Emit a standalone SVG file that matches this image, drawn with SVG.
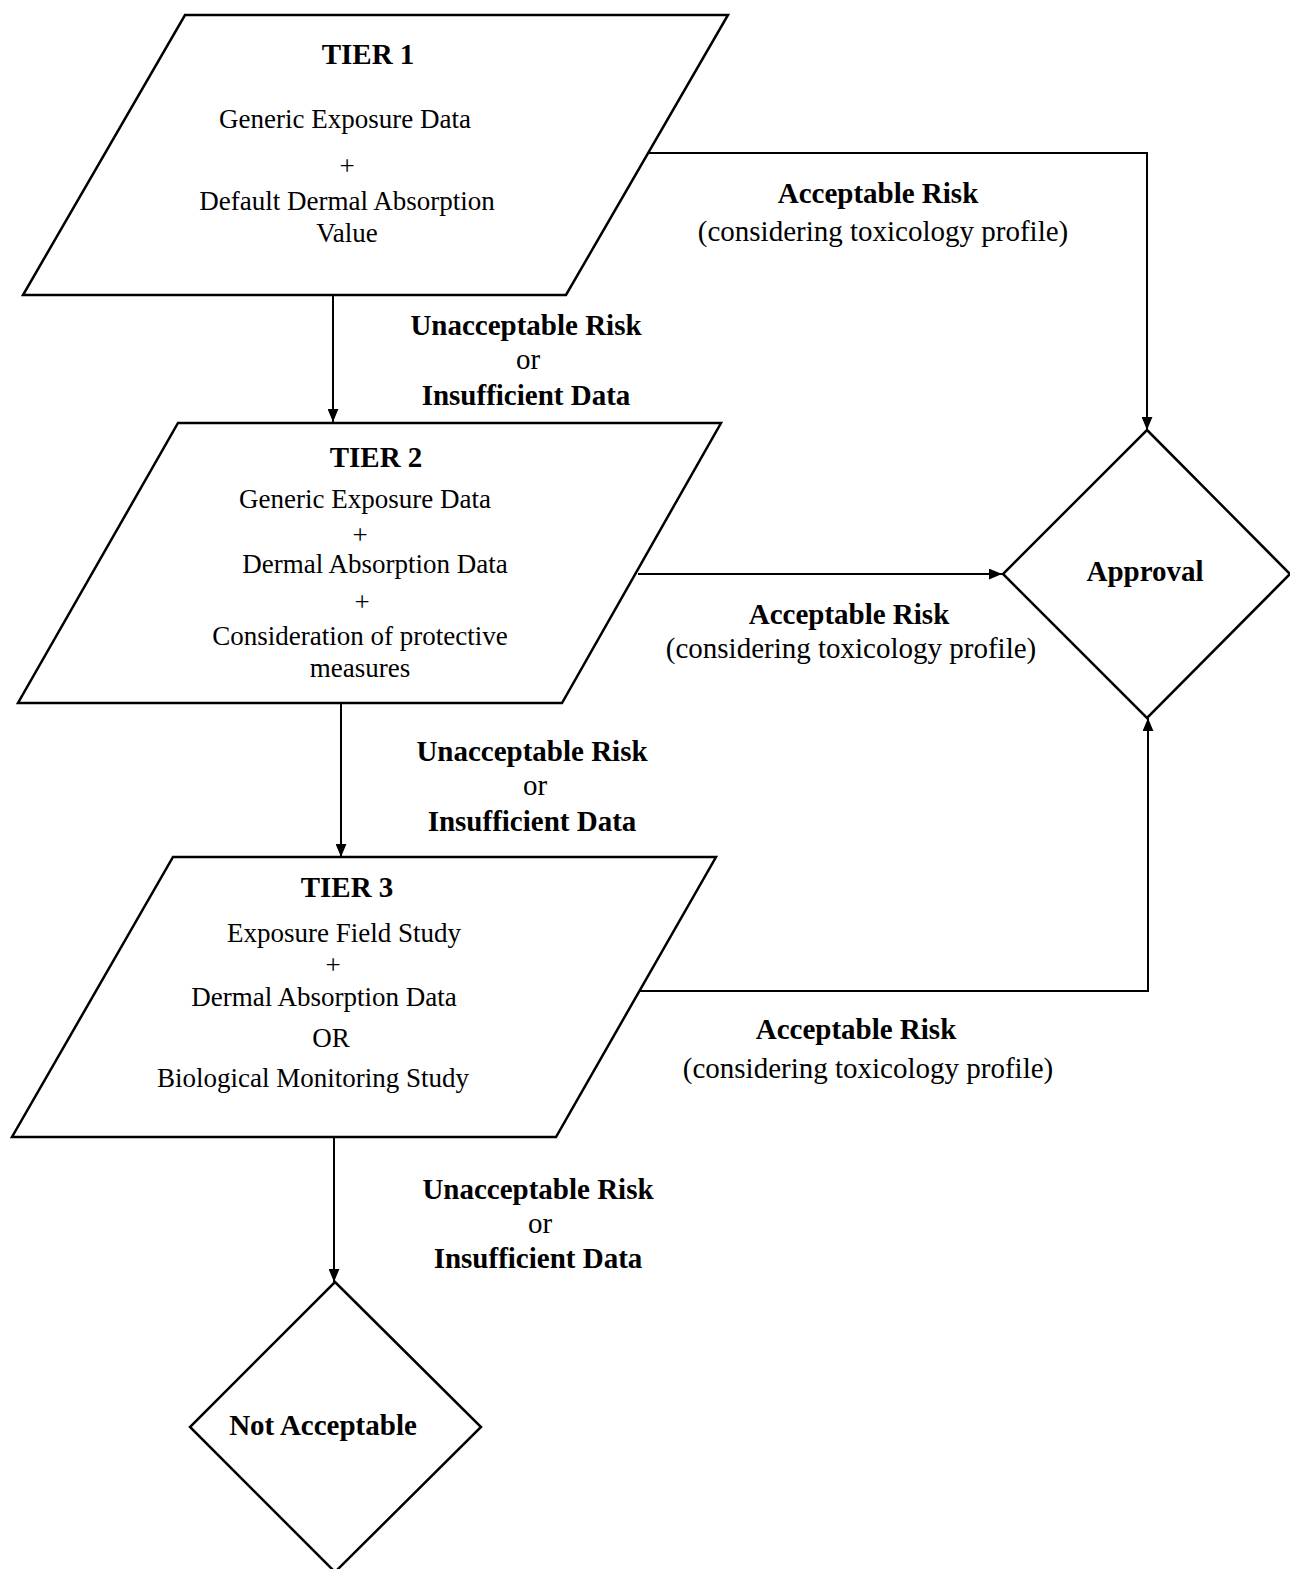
<svg xmlns="http://www.w3.org/2000/svg" width="1290" height="1569" viewBox="0 0 1290 1569">
<defs>
<style>
.shape{fill:#fff;stroke:#000;stroke-width:2.5;stroke-linejoin:miter}
.conn{fill:none;stroke:#000;stroke-width:2}
text{font-family:"Liberation Serif","Times New Roman",serif;fill:#000;text-anchor:middle}
.n{font-size:27px}
.l{font-size:29px}
.b{font-weight:bold;font-size:29px}
</style>
<marker id="arr" viewBox="0 0 12 10" refX="12" refY="5" markerWidth="13" markerHeight="11" markerUnits="userSpaceOnUse" orient="auto">
<path d="M0,0 L12,5 L0,10 Z" fill="#000"/>
</marker>
</defs>
<rect width="1290" height="1569" fill="#fff"/>
<g id="connectors">
<path class="conn" d="M648,153 H1147 V430" marker-end="url(#arr)"/>
<path class="conn" d="M333,295 V422" marker-end="url(#arr)"/>
<path class="conn" d="M638,574 H1002" marker-end="url(#arr)"/>
<path class="conn" d="M341,703 V857" marker-end="url(#arr)"/>
<path class="conn" d="M640,991 H1148 V718" marker-end="url(#arr)"/>
<path class="conn" d="M334,1137 V1282" marker-end="url(#arr)"/>
</g>
<g id="tier1">
<polygon class="shape" points="185,15 728,15 566,295 23,295"/>
<text class="b" x="368" y="64">TIER 1</text>
<text class="n" x="345" y="128">Generic Exposure Data</text>
<text class="n" x="347" y="175">+</text>
<text class="n" x="347" y="210">Default Dermal Absorption</text>
<text class="n" x="347" y="242">Value</text>
</g>
<g id="tier2">
<polygon class="shape" points="178,423 721,423 562,703 18,703"/>
<text class="b" x="376" y="467">TIER 2</text>
<text class="n" x="365" y="508">Generic Exposure Data</text>
<text class="n" x="360" y="544">+</text>
<text class="n" x="375" y="573">Dermal Absorption Data</text>
<text class="n" x="362" y="611">+</text>
<text class="n" x="360" y="645">Consideration of protective</text>
<text class="n" x="360" y="677">measures</text>
</g>
<g id="tier3">
<polygon class="shape" points="173,857 716,857 556,1137 12,1137"/>
<text class="b" x="347" y="897">TIER 3</text>
<text class="n" x="344" y="942">Exposure Field Study</text>
<text class="n" x="333" y="974">+</text>
<text class="n" x="324" y="1006">Dermal Absorption Data</text>
<text class="n" x="331" y="1047">OR</text>
<text class="n" x="313" y="1087">Biological Monitoring Study</text>
</g>
<g id="approval">
<polygon class="shape" points="1147,430 1290,574 1147,718 1003,574"/>
<text class="b" x="1145" y="581">Approval</text>
</g>
<g id="not-acceptable">
<polygon class="shape" points="335,1282 481,1427 335,1572 190,1427"/>
<text class="b" x="323" y="1435">Not Acceptable</text>
</g>
<g id="labels">
<text class="b" x="878" y="203">Acceptable Risk</text>
<text class="l" x="883" y="241">(considering toxicology profile)</text>
<text class="b" x="849" y="624">Acceptable Risk</text>
<text class="l" x="851" y="658">(considering toxicology profile)</text>
<text class="b" x="856" y="1039">Acceptable Risk</text>
<text class="l" x="868" y="1078">(considering toxicology profile)</text>
<text class="b" x="526" y="335">Unacceptable Risk</text>
<text class="l" x="528" y="369">or</text>
<text class="b" x="526" y="405">Insufficient Data</text>
<text class="b" x="532" y="761">Unacceptable Risk</text>
<text class="l" x="535" y="795">or</text>
<text class="b" x="532" y="831">Insufficient Data</text>
<text class="b" x="538" y="1199">Unacceptable Risk</text>
<text class="l" x="540" y="1233">or</text>
<text class="b" x="538" y="1268">Insufficient Data</text>
</g>
</svg>
